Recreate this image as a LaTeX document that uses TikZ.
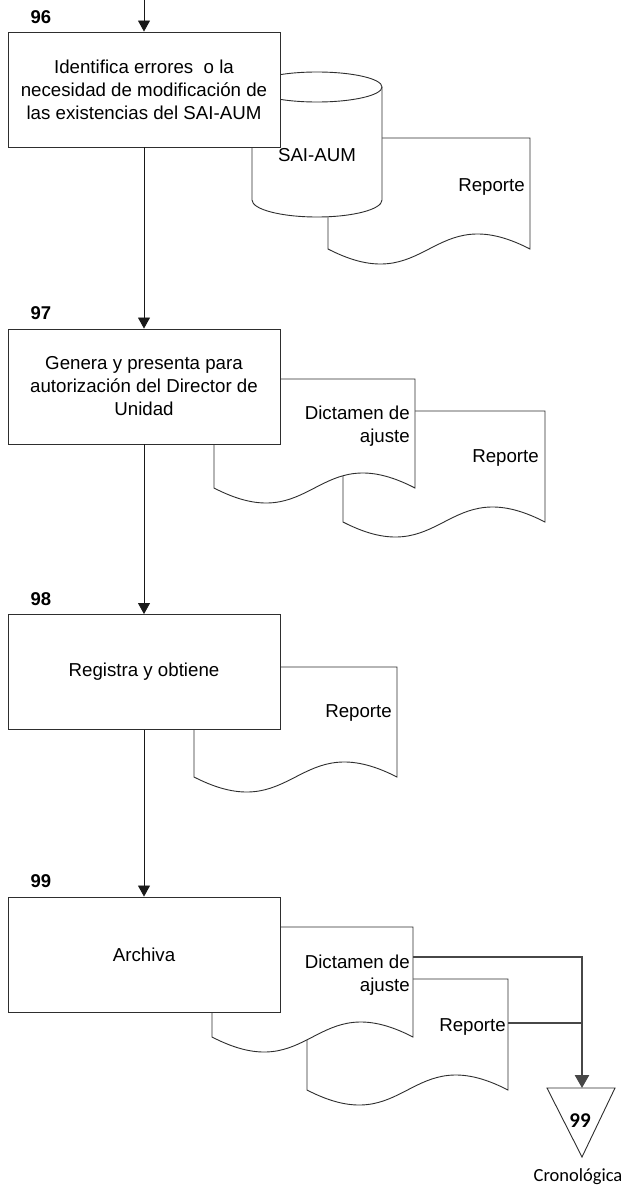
\documentclass[tikz,border=0pt]{standalone}
\usepackage{fontspec}
\setmainfont{Liberation Sans}
\newfontfamily\calibrifont{Carlito}
\usetikzlibrary{arrows.meta}

% document symbol with a wavy bottom: left, top, right, baseline of the wave
\newcommand\docshape[4]{%
  \filldraw[shapeline] (#1,#2) -- (#3,#2) -- (#3,#4)
    .. controls ({(#1+#3)/2},{#4-52}) and ({(#1+#3)/2},{#4+52}) .. (#1,#4) -- cycle;}

\begin{document}
\begin{tikzpicture}[x=1pt,y=-1pt,
  shapeline/.style={draw=black!82,fill=white,line width=0.9pt},
  stepbox/.style={shapeline,rectangle,minimum width=272pt,minimum height=115pt,
    inner sep=0pt,align=center,font=\fontsize{18.7}{23}\selectfont},
  steplabel/.style={font=\fontsize{18.5}{22}\selectfont\bfseries,inner sep=0pt},
  doctext/.style={anchor=east,align=right,inner sep=0pt,font=\fontsize{18.7}{23}\selectfont},
  flow/.style={draw=black!90,line width=0.8pt,-{Triangle[width=12pt,length=11pt]}},
  merge/.style={draw=black!72,line width=2.5pt},
]
\useasboundingbox (0,0) rectangle (627,1191);

% ---- step 96: documents behind the process box ----
\docshape{328}{138}{530}{249}
\node[doctext] (rep96) at (525,187) {Reporte};
% stored-data cylinder SAI-AUM
\filldraw[shapeline] (252,87) -- (252,200)
  arc[start angle=180,end angle=0,x radius=65,y radius=17] -- (382,87)
  arc[start angle=0,end angle=-180,x radius=65,y radius=15] -- cycle;
\draw[shapeline,fill=none] (252,87) arc[start angle=180,end angle=0,x radius=65,y radius=15];
\node[inner sep=0pt,font=\fontsize{18.7}{23}\selectfont] (sai) at (317,155) {SAI-AUM};

\node[stepbox] (s96) at (144,89.5) {Identifica errores\ \ o la\\necesidad de modificación de\\las existencias del SAI-AUM};
\node[steplabel] (l96) at (41,17) {96};

% ---- step 97 ----
\docshape{343}{411}{545}{522}
\node[doctext] (rep97) at (539,458) {Reporte};
\docshape{214}{379}{415}{488}
\node[doctext] (dic97) at (410,426) {Dictamen de\\ajuste};
\node[stepbox] (s97) at (144,386.5) {Genera y presenta para\\autorización del Director de\\Unidad};
\node[steplabel] (l97) at (41,313) {97};

% ---- step 98 ----
\docshape{194}{667}{397}{777}
\node[doctext] (rep98) at (392,713) {Reporte};
\node[stepbox] (s98) at (144,672) {Registra y obtiene};
\node[steplabel] (l98) at (41,599) {98};

% ---- step 99 ----
\docshape{307}{979}{508}{1090}
\node[doctext] (rep99) at (506,1027) {Reporte};
\docshape{212}{927}{413}{1037}
\node[doctext] (dic99) at (410,975) {Dictamen de\\ajuste};
\node[stepbox] (s99) at (144,954.5) {Archiva};
\node[steplabel] (l99) at (41,881) {99};

% ---- archive (chronological) ----
\coordinate (archtop) at (582,1088);
\filldraw[shapeline] (547,1088) -- (615,1088) -- (582,1157) -- cycle;
\node[inner sep=0pt,font=\calibrifont\fontsize{21}{22}\selectfont\bfseries] (a99) at (580,1121) {99};
\node[inner sep=0pt,font=\calibrifont\fontsize{18.5}{20}\selectfont] (cron) at (578,1177) {Cronológica};

% ---- flow connectors ----
\coordinate (start) at (144,0);
\draw[flow] (start) -- (s96.north);
\draw[flow] (s96.south) -- (s97.north);
\draw[flow] (s97.south) -- (s98.north);
\draw[flow] (s98.south) -- (s99.north);

\coordinate (dicout) at (413,957);
\coordinate (repout) at (508,1023);
\draw[merge,-{Triangle[width=14pt,length=13pt]}] (dicout) -| (archtop);
\draw[merge] (repout) -- (repout -| archtop);
\end{tikzpicture}
\end{document}
